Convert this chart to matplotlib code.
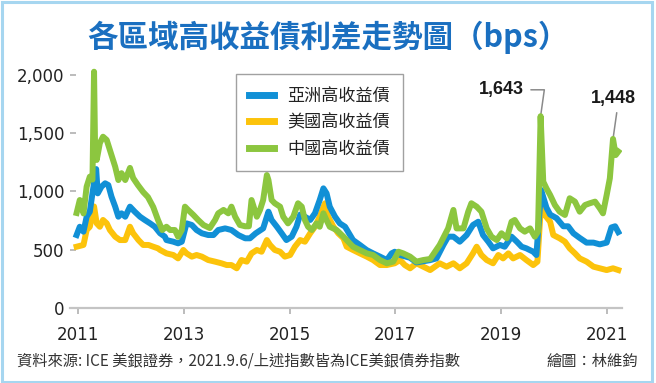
import matplotlib
matplotlib.use("Agg")
import matplotlib.pyplot as plt
from matplotlib.lines import Line2D
from matplotlib.patches import Rectangle

# ---- data (bps) ----
green_x = [2010.97, 2011.03, 2011.10, 2011.16, 2011.22, 2011.27, 2011.30, 2011.32, 2011.35, 2011.41,
           2011.47, 2011.54, 2011.60, 2011.70, 2011.76, 2011.82, 2011.89, 2011.98, 2012.04, 2012.13,
           2012.23, 2012.32, 2012.42, 2012.51, 2012.59, 2012.67, 2012.74, 2012.83, 2012.89, 2012.96,
           2013.02, 2013.08, 2013.18, 2013.27, 2013.37, 2013.49, 2013.59, 2013.65, 2013.75, 2013.84,
           2013.90, 2013.97, 2014.06, 2014.16, 2014.23, 2014.28, 2014.38, 2014.44, 2014.50, 2014.57,
           2014.60, 2014.66, 2014.72, 2014.82, 2014.88, 2014.97, 2015.07, 2015.16, 2015.23, 2015.29,
           2015.35, 2015.42, 2015.51, 2015.57, 2015.64, 2015.69, 2015.76, 2015.89, 2016.02, 2016.08,
           2016.20, 2016.33, 2016.46, 2016.58, 2016.71, 2016.84, 2016.96, 2017.06, 2017.15, 2017.28,
           2017.40, 2017.53, 2017.66, 2017.84, 2018.00, 2018.10, 2018.16, 2018.29, 2018.38, 2018.44,
           2018.54, 2018.63, 2018.73, 2018.82, 2018.92, 2019.01, 2019.11, 2019.20, 2019.26, 2019.36,
           2019.45, 2019.55, 2019.64, 2019.70, 2019.75, 2019.80, 2019.86, 2019.93, 2020.02, 2020.11,
           2020.21, 2020.30, 2020.40, 2020.49, 2020.59, 2020.68, 2020.78, 2020.87, 2020.93, 2021.00,
           2021.06, 2021.12, 2021.17, 2021.22]
green_y = [814, 925, 810, 1040, 1125, 1100, 2024, 1350, 1268, 1413,
           1467, 1439, 1353, 1210, 1096, 1155, 1096, 1200, 1113, 1053,
           993, 950, 865, 754, 668, 696, 668, 668, 610, 668,
           868, 840, 797, 754, 711, 685, 754, 811, 840, 811,
           868, 782, 711, 700, 700, 925, 782, 840, 925, 1139,
           1096, 925, 897, 868, 782, 725, 782, 897, 868, 754,
           696, 668, 725, 696, 811, 760, 696, 668, 611, 582,
           525, 496, 468, 454, 411, 383, 397, 482, 468, 440,
           397, 411, 420, 540, 682, 840, 682, 682, 825, 897,
           868, 825, 682, 611, 582, 640, 597, 739, 754, 682,
           654, 682, 611, 654, 1643, 1082, 1025, 968, 882, 825,
           797, 940, 911, 825, 882, 897, 911, 854, 811, 968,
           1111, 1448, 1310, 1340]

blue_x = [2010.97, 2011.03, 2011.10, 2011.16, 2011.22, 2011.27, 2011.34, 2011.37, 2011.44, 2011.51,
          2011.57, 2011.63, 2011.70, 2011.76, 2011.82, 2011.89, 2011.98, 2012.07, 2012.17, 2012.26,
          2012.36, 2012.45, 2012.55, 2012.64, 2012.67, 2012.80, 2012.89, 2012.96, 2013.05, 2013.15,
          2013.24, 2013.34, 2013.46, 2013.56, 2013.65, 2013.78, 2013.90, 2014.03, 2014.16, 2014.25,
          2014.36, 2014.50, 2014.60, 2014.66, 2014.76, 2014.85, 2014.94, 2015.04, 2015.13, 2015.20,
          2015.29, 2015.39, 2015.48, 2015.57, 2015.64, 2015.70, 2015.76, 2015.86, 2015.95, 2016.05,
          2016.20, 2016.33, 2016.46, 2016.58, 2016.71, 2016.84, 2016.93, 2016.99, 2017.09, 2017.28,
          2017.40, 2017.53, 2017.66, 2017.78, 2017.91, 2018.00, 2018.10, 2018.22, 2018.35, 2018.47,
          2018.57, 2018.66, 2018.76, 2018.85, 2018.98, 2019.07, 2019.20, 2019.30, 2019.39, 2019.48,
          2019.61, 2019.67, 2019.76, 2019.80, 2019.86, 2019.93, 2020.05, 2020.18, 2020.27, 2020.37,
          2020.49, 2020.62, 2020.75, 2020.87, 2021.00, 2021.09, 2021.16, 2021.22]
blue_y = [625, 696, 654, 782, 825, 982, 1190, 982, 1039, 1068,
          1053, 954, 868, 782, 811, 782, 868, 825, 782, 754,
          725, 696, 640, 611, 582, 568, 554, 568, 725, 711,
          668, 640, 625, 625, 668, 682, 668, 625, 597, 597,
          640, 682, 825, 754, 696, 640, 582, 611, 696, 800,
          782, 754, 811, 925, 1025, 982, 868, 782, 725, 696,
          582, 540, 496, 468, 440, 411, 468, 482, 454, 430,
          390, 400, 410, 425, 540, 611, 611, 568, 625, 711,
          739, 625, 568, 511, 540, 525, 611, 568, 525, 511,
          482, 454, 1011, 950, 860, 800, 770, 700, 700, 640,
          600, 560, 560, 545, 560, 690, 700, 650]

yellow_x = [2010.97, 2011.10, 2011.16, 2011.22, 2011.30, 2011.35, 2011.41, 2011.47, 2011.54, 2011.60,
            2011.70, 2011.79, 2011.89, 2011.98, 2012.04, 2012.14, 2012.23, 2012.33, 2012.42, 2012.51,
            2012.55, 2012.67, 2012.80, 2012.89, 2012.99, 2013.05, 2013.15, 2013.24, 2013.34, 2013.46,
            2013.59, 2013.71, 2013.81, 2013.90, 2014.00, 2014.09, 2014.19, 2014.28, 2014.38, 2014.47,
            2014.57, 2014.63, 2014.72, 2014.82, 2014.91, 2015.01, 2015.10, 2015.20, 2015.29, 2015.39,
            2015.48, 2015.57, 2015.67, 2015.73, 2015.83, 2015.92, 2016.02, 2016.08, 2016.20, 2016.33,
            2016.46, 2016.58, 2016.71, 2016.84, 2016.99, 2017.09, 2017.18, 2017.28, 2017.40, 2017.53,
            2017.66, 2017.84, 2017.97, 2018.10, 2018.22, 2018.35, 2018.47, 2018.54, 2018.63, 2018.73,
            2018.85, 2018.95, 2019.04, 2019.14, 2019.23, 2019.36, 2019.48, 2019.61, 2019.69, 2019.77,
            2019.83, 2019.93, 2019.99, 2020.11, 2020.21, 2020.30, 2020.40, 2020.49, 2020.62, 2020.75,
            2020.87, 2021.00, 2021.12, 2021.22]
yellow_y = [525, 540, 668, 696, 870, 725, 696, 754, 725, 668,
            611, 582, 582, 696, 640, 582, 540, 540, 525, 511,
            497, 468, 454, 425, 497, 468, 440, 454, 440, 411,
            397, 383, 368, 368, 340, 411, 397, 468, 497, 482,
            582, 540, 497, 482, 440, 454, 525, 582, 568, 640,
            696, 782, 897, 782, 696, 640, 597, 525, 497, 468,
            440, 411, 368, 368, 383, 411, 368, 340, 383, 354,
            325, 383, 354, 383, 340, 383, 468, 525, 454, 411,
            383, 454, 425, 468, 425, 454, 411, 368, 397, 982,
            797, 739, 625, 597, 568, 511, 468, 425, 397, 354,
            340, 325, 340, 325]

series_names = ["亞洲高收益債", "美國高收益債", "中國高收益債"]
year_ticks = [2011, 2013, 2015, 2017, 2019, 2021]
value_ticks = [0, 500, 1000, 1500, 2000]
peak_2020 = (2019.75, 1643)
peak_2021 = (2021.12, 1448)

title = "各區域高收益債利差走勢圖（bps）"
source = "資料來源: ICE 美銀證券，2021.9.6/上述指數皆為ICE美銀債券指數"
credit = "繪圖：林維鈞"

# ---- styling ----
BLUE = "#1190d6"
YELLOW = "#fcc30b"
GREEN = "#8cc63f"
TITLE_BLUE = "#1a6fc0"
CJK = ["Noto Sans CJK TC", "DejaVu Sans"]

W, H = 656, 383
fig = plt.figure(figsize=(W / 100, H / 100), dpi=100)
ax = fig.add_axes([70 / W, (H - 308) / H, 552 / W, 251 / H])

lw = 4.3
ax.plot(yellow_x, yellow_y, color=YELLOW, lw=lw, zorder=2)
ax.plot(blue_x, blue_y, color=BLUE, lw=lw, zorder=3)
ax.plot(green_x, green_y, color=GREEN, lw=lw, zorder=4)

ax.set_xlim(2010.845, 2021.29)
ax.set_ylim(0, 2150)

for s in ["top", "right", "left"]:
    ax.spines[s].set_visible(False)
ax.spines["bottom"].set_color("#c4c4c4")
ax.spines["bottom"].set_linewidth(1.6)

ax.set_xticks(year_ticks)
ax.set_xticklabels([str(y) for y in year_ticks])
ax.set_yticks(value_ticks)
ax.set_yticklabels([f"{v:,}" for v in value_ticks])
ax.tick_params(axis="y", direction="in", length=4, width=1.2, color="#b0b0b0",
               pad=4, labelsize=12, labelcolor="#222222")
ax.tick_params(axis="x", direction="out", length=4.5, width=1.2, color="#b0b0b0",
               pad=8.5, labelsize=12, labelcolor="#222222")

# legend
handles = [Line2D([], [], color=c, lw=5) for c in (BLUE, YELLOW, GREEN)]
leg = ax.legend(handles, series_names, loc="upper left",
                bbox_to_anchor=(236 / W, 1 - 74 / H), bbox_transform=fig.transFigure,
                borderaxespad=0, frameon=True, fancybox=False, handlelength=1.5,
                handletextpad=0.75, labelspacing=0.5, borderpad=0.75,
                prop={"family": CJK, "size": 12.3})
leg.get_frame().set_edgecolor("#8a8a8a")
leg.get_frame().set_linewidth(1.0)
for t in leg.get_texts():
    t.set_color("#222222")

# peak annotations
ax.annotate("1,643", xy=peak_2020, xytext=(-12, 19), textcoords="offset points",
            ha="right", va="center", fontsize=13, fontweight="bold",
            family="Liberation Sans", color="#1a1a1a",
            arrowprops=dict(arrowstyle="-", color="#8a8a8a", lw=1.1, shrinkA=3, shrinkB=1,
                            connectionstyle="angle,angleA=0,angleB=82,rad=0"))
ax.annotate("1,448", xy=peak_2021, xytext=(0, 29), textcoords="offset points",
            ha="center", va="center", fontsize=13, fontweight="bold",
            family="Liberation Sans", color="#1a1a1a",
            arrowprops=dict(arrowstyle="-", color="#8a8a8a", lw=1.1, shrinkA=2, shrinkB=1,
                            relpos=(0.6, 0)))

# title and footer
fig.text(0.5, 1 - 37.5 / H, title, ha="center", va="center", fontsize=22,
         fontweight="bold", color=TITLE_BLUE, family=CJK)
fig.text(17 / W, 1 - 361 / H, source, ha="left", va="center", fontsize=11,
         color="#333333", family=CJK)
fig.text(638 / W, 1 - 361 / H, credit, ha="right", va="center", fontsize=11,
         color="#333333", family=CJK)

# light blue frame round the whole picture
fig.patches.append(Rectangle((1.5 / W, 1.5 / H), 650 / W, 380 / H, transform=fig.transFigure,
                             fill=False, edgecolor="#a6d6f0", lw=2.2))

fig.savefig("out.png", dpi=100, facecolor="white")
